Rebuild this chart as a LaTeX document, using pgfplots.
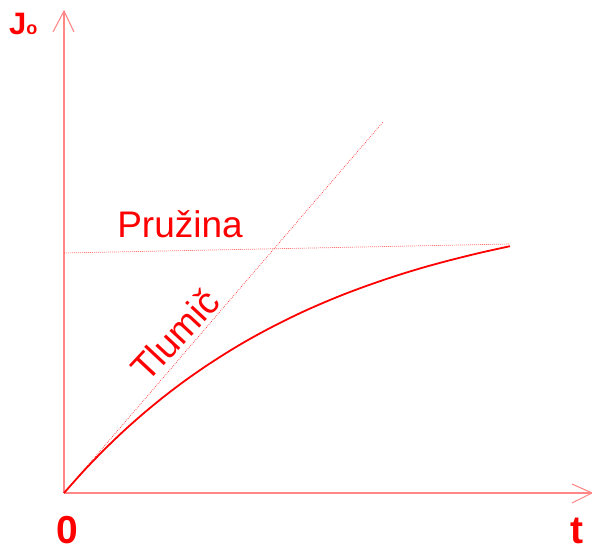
\documentclass[border=0pt]{standalone}
\usepackage{pgfplots}
\pgfplotsset{compat=1.18}
\usepackage{fontspec}
\setmainfont{Liberation Sans}
\definecolor{axisred}{RGB}{255,135,135}
\definecolor{dotred}{RGB}{255,40,40}

\begin{document}
\begin{tikzpicture}
\begin{axis}[
  name=ax,
  x=1pt, y=1pt,
  xmin=-64, xmax=528, ymin=-56, ymax=493,
  hide axis, clip=false,
]
% coordinate axes with open arrow heads
\addplot[axisred, line width=1.1pt] coordinates {(0,0) (0,482)};
\addplot[axisred, line width=1.1pt] coordinates {(-11,461) (0,482) (10,461)};
\addplot[axisred, line width=1.1pt] coordinates {(0,0) (528,0)};
\addplot[axisred, line width=1.1pt] coordinates {(508,9) (528,0) (508,-10)};

% tangent at the origin (damper)
\addplot[dotred, line width=0.7pt, dash pattern=on 0.7pt off 1.3pt] coordinates {(0,0) (319,371)};
% asymptote (spring)
\addplot[dotred, line width=0.7pt, dash pattern=on 0.7pt off 1.3pt] coordinates {(0,240) (446,249)};

% creep response
\addplot[red, line width=1.8pt, smooth] coordinates {
  (0,0) (20,22.4) (40,43.1) (60,62.3) (80,80.0) (100,96.4) (120,111.6)
  (140,125.6) (160,138.6) (180,150.7) (200,161.8) (220,172.1) (240,181.7)
  (260,190.5) (280,198.7) (300,206.2) (320,213.2) (340,219.7) (360,225.7)
  (380,231.2) (400,236.3) (420,241.1) (446,246.8)
};

% labels
\node[red, anchor=base, font=\fontsize{37}{37}\selectfont, inner sep=0pt] at (axis cs:116,255) {Pružina};
\node[red, anchor=center, rotate=47, font=\fontsize{37}{37}\selectfont, inner sep=0pt] at (axis cs:111,158) {Tlumič};
\node[red, anchor=base west, inner sep=0pt] at (axis cs:-55,458) {{\fontsize{31}{31}\selectfont\bfseries J}{\fontsize{18}{18}\selectfont\bfseries o}};
\node[red, anchor=base, font=\fontsize{39}{39}\selectfont\bfseries, inner sep=0pt] at (axis cs:3.5,-51) {0};
\node[red, anchor=base, font=\fontsize{39}{39}\selectfont\bfseries, inner sep=0pt] at (axis cs:513,-51) {t};
\end{axis}
\pgfresetboundingbox
\useasboundingbox (ax.south west) rectangle (ax.north east);
\end{tikzpicture}
\end{document}
